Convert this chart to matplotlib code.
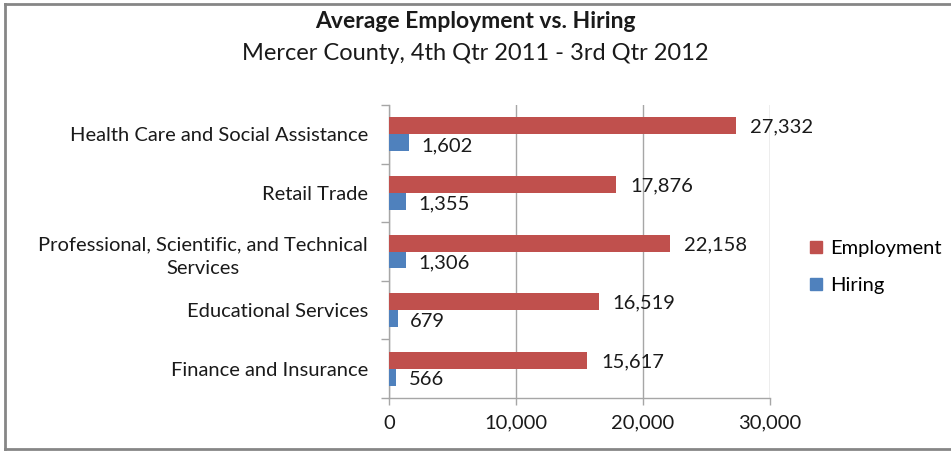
import matplotlib
matplotlib.use("Agg")
import matplotlib.pyplot as plt
import numpy as np
from matplotlib.lines import Line2D

categories = ["Health Care and Social Assistance", "Retail Trade",
              "Professional, Scientific, and Technical\nServices",
              "Educational Services", "Finance and Insurance"]
employment = [27332, 17876, 22158, 16519, 15617]
hiring = [1602, 1355, 1306, 679, 566]
xticks = [0, 10000, 20000, 30000]

RED = "#C0504D"
BLUE = "#4F81BD"
GRID = "#A6A6A6"
TXT = "#1a1a1a"
FS = 14.5

plt.rcParams["font.family"] = ["Lato", "DejaVu Sans"]

fig = plt.figure(figsize=(9.51, 4.51), dpi=100)
ax = fig.add_axes([389 / 951, 1 - 398 / 451, 381 / 951, 293 / 451])

y = np.arange(len(categories))[::-1].astype(float)
h = 0.29
ax.barh(y + h / 2, employment, height=h, color=RED, label="Employment", zorder=3)
ax.barh(y - h / 2, hiring, height=h, color=BLUE, label="Hiring", zorder=3)

for yi, v in zip(y, employment):
    ax.annotate(f"{v:,}", (v, yi + h / 2), xytext=(10, -1), textcoords="offset points",
                va="center", ha="left", fontsize=FS, color=TXT)
for yi, v in zip(y, hiring):
    ax.annotate(f"{v:,}", (v, yi - h / 2), xytext=(9, -2), textcoords="offset points",
                va="center", ha="left", fontsize=FS, color=TXT)

ax.set_xlim(0, 30000)
ax.set_ylim(-0.5, len(categories) - 0.5)
ax.set_xticks(xticks)
ax.set_xticklabels([f"{t:,}" for t in xticks], fontsize=FS, color=TXT)
ax.set_yticks(y)
ax.set_yticklabels(categories, fontsize=FS, color=TXT, linespacing=1.5)
for lbl in ax.get_yticklabels():
    lbl.set_multialignment("center")
ax.set_yticks(np.arange(-0.5, len(categories)), minor=True)
ax.tick_params(axis="y", which="major", length=0, pad=15)
ax.tick_params(axis="y", which="minor", length=6, color=GRID, width=1)
ax.tick_params(axis="x", length=5, color=GRID, width=1, pad=7, direction="out")
ax.grid(axis="x", color=GRID, lw=1, zorder=0)
for s in ["top", "right"]:
    ax.spines[s].set_visible(False)
for s in ["left", "bottom"]:
    ax.spines[s].set_color(GRID)
    ax.spines[s].set_linewidth(1)

handles = [Line2D([], [], marker="s", ls="", color=RED, markersize=9),
           Line2D([], [], marker="s", ls="", color=BLUE, markersize=9)]
fig.legend(handles, ["Employment", "Hiring"], loc="upper left",
           bbox_to_anchor=(786 / 951, 1 - 222 / 451), frameon=False,
           fontsize=FS, handletextpad=0.1, labelspacing=1.0, handlelength=1.2)

fig.text(0.5, 1 - 22 / 451, "Average Employment vs. Hiring", ha="center", va="center",
         fontsize=16.5, fontweight="bold", color=TXT)
fig.text(0.5, 1 - 53 / 451, "Mercer County, 4th Qtr 2011 - 3rd Qtr 2012", ha="center",
         va="center", fontsize=17, color=TXT)

# outer chart frame (left, top, bottom visible)
fig.add_artist(Line2D([5 / 951, 5 / 951], [1 - 4 / 451, 1 - 449 / 451],
                      transform=fig.transFigure, color="#868686", lw=2))
fig.add_artist(Line2D([5 / 951, 1], [1 - 4 / 451, 1 - 4 / 451],
                      transform=fig.transFigure, color="#868686", lw=2))
fig.add_artist(Line2D([5 / 951, 1], [1 - 449 / 451, 1 - 449 / 451],
                      transform=fig.transFigure, color="#868686", lw=2))

fig.savefig("out.png", dpi=100)
